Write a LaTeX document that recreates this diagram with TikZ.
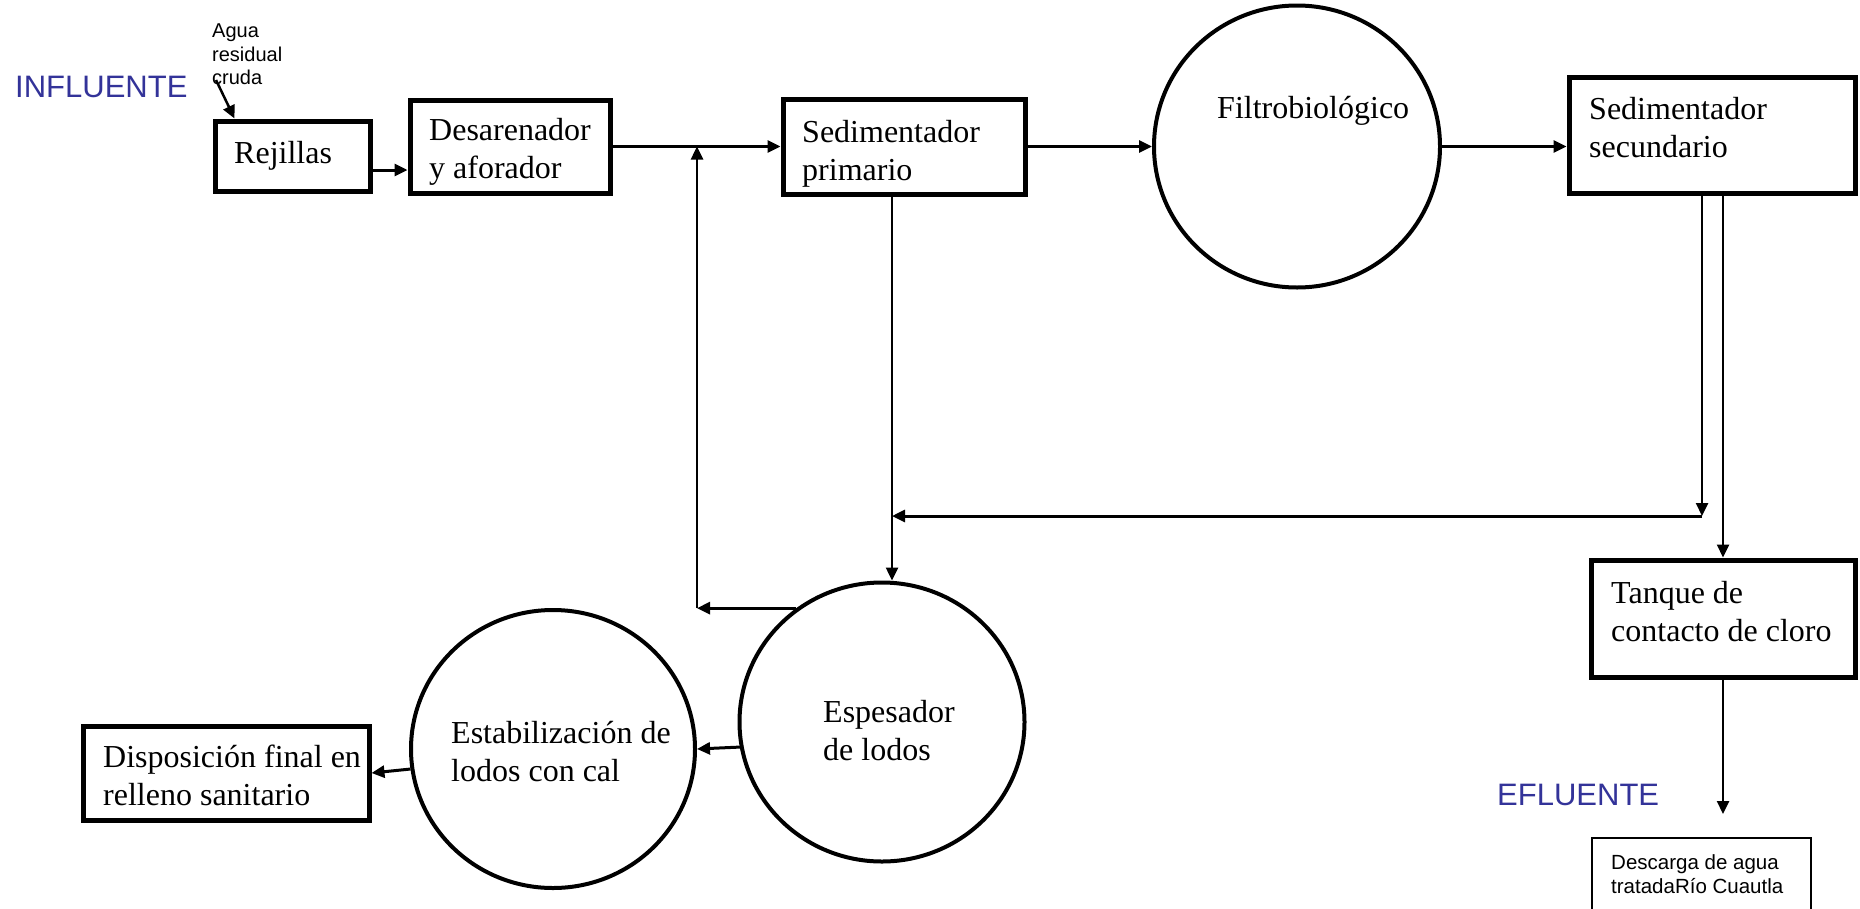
\documentclass[tikz,border=0pt]{standalone}
\usepackage{fontspec}
\setmainfont{Liberation Serif}
\newfontfamily\arialf{Liberation Sans}
\usetikzlibrary{arrows.meta,shapes.geometric,calc}
\definecolor{labelblue}{RGB}{51,51,153}
\begin{document}
\begin{tikzpicture}[x=1pt,y=-1pt,
  box/.style={draw, line width=5pt, rectangle, inner sep=0pt},
  thinbox/.style={draw, line width=1.5pt, rectangle, inner sep=0pt},
  circ/.style={draw, line width=4pt, ellipse, inner sep=0pt},
  lbl/.style={anchor=north west, inner sep=0pt, align=left, font=\fontsize{32}{38}\selectfont},
  bluelbl/.style={anchor=base west, inner sep=0pt, text=labelblue, font=\arialf\fontsize{31}{36}\selectfont},
  smalllbl/.style={anchor=north west, inner sep=0pt, align=left},
  arr/.style={-{Triangle[length=13pt,width=12pt]}, line width=3pt},
  tarr/.style={-{Triangle[length=13pt,width=12pt]}, line width=2.5pt}
]
\fill[white] (0,0) rectangle (1860,908);
\useasboundingbox (0,0) rectangle (1860,908);

% process units
\node[box, minimum width=155pt, minimum height=70pt] (rej) at (292.5,156) {};
\node[box, minimum width=200pt, minimum height=93pt] (desar) at (510,146.5) {};
\node[box, minimum width=242pt, minimum height=95pt] (sedprim) at (904,146.5) {};
\node[circ, minimum width=286pt, minimum height=282pt] (filtro) at (1297,146.5) {};
\node[box, minimum width=286pt, minimum height=116pt] (sedsec) at (1712,135) {};
\node[box, minimum width=264pt, minimum height=117pt] (tanque) at (1723,618.5) {};
\node[circ, minimum width=285pt, minimum height=279pt] (espesador) at (882,722) {};
\node[circ, minimum width=284pt, minimum height=278pt] (estab) at (553,749) {};
\node[box, minimum width=286pt, minimum height=94pt] (disp) at (226,773) {};
\node[thinbox, minimum width=219pt, minimum height=77pt] (descarga) at (1701.5,876.5) {};

% texts
\node[lbl, anchor=base west] (trej) at (234,163) {Rejillas};
\node[lbl] (tdesar) at (429,118) {Desarenador\\y aforador};
\node[lbl] (tsedp) at (802,120) {Sedimentador\\primario};
\node[lbl, anchor=base west] (tfil) at (1217,118) {Filtrobiológico};
\node[lbl] (tseds) at (1589,97) {Sedimentador\\secundario};
\node[lbl] (ttan) at (1611,581) {Tanque de\\contacto de cloro};
\node[lbl] (tesp) at (823,700) {Espesador\\de lodos};
\node[lbl] (test) at (451,721) {Estabilización de\\lodos con cal};
\node[lbl] (tdisp) at (103,745) {Disposición final en\\relleno sanitario};
\node[bluelbl] (tin) at (15,97) {INFLUENTE};
\node[bluelbl] (tout) at (1497,805) {EFLUENTE};
\node[smalllbl, font=\arialf\fontsize{20}{23.5}\selectfont] (tagua) at (212,23.7) {Agua\\residual\\cruda};
\node[smalllbl, font=\arialf\fontsize{20.5}{24}\selectfont] (tdes) at (1611,854.3) {Descarga de agua\\tratadaRío Cuautla};

% helper coordinates
\coordinate (ain) at (216,80);
\coordinate (xl) at (1702,0);
\coordinate (xr) at (1723,0);
\coordinate (xm) at (892,0);
\coordinate (xv) at (697,0);
\coordinate (retR) at (1702,516);
\coordinate (eff) at (1723,814);
\path ($(rej.east)+(0,14)$) coordinate (r1);
\path (espesador.127) coordinate (e1);

% connectors
\draw[tarr] (ain) -- ($(rej.north west)+(22,0)$);
\draw[arr] (r1) -- (r1 -| desar.west);
\draw[arr] (desar.east) -- (sedprim.west);
\draw[arr] (sedprim.east) -- (filtro.west);
\draw[arr] (filtro.east) -- (filtro.east -| sedsec.west);
\draw[tarr] (xr |- sedsec.south) -- (xr |- tanque.north);
\draw[tarr] (xl |- sedsec.south) -- (retR);
\draw[arr] (retR) -- (retR -| xm);
\draw[tarr] (xm |- sedprim.south) -- (xm |- espesador.north);
\draw[arr] (e1) -- (e1 -| xv);
\draw[tarr] (e1 -| xv) -- (xv |- desar.east);
\draw[arr] (espesador.190) -- (estab.east);
\draw[arr] (estab.188) -- (disp.east);
\draw[tarr] (xr |- tanque.south) -- (eff);
\end{tikzpicture}
\end{document}
